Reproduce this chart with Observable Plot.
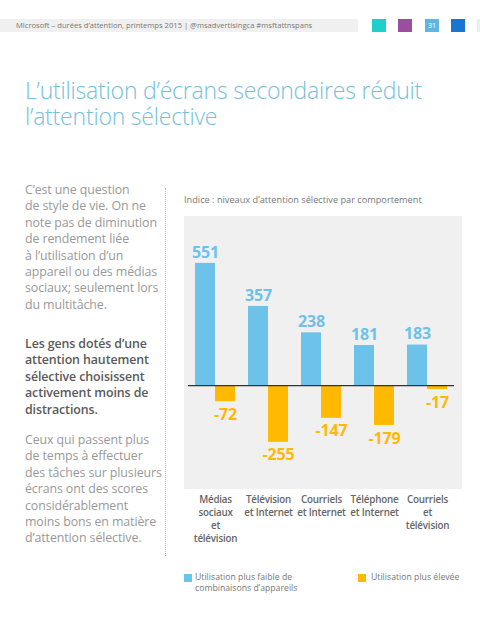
<!DOCTYPE html>
<html><head><meta charset="utf-8">
<script src="https://cdn.jsdelivr.net/npm/d3@7"></script>
<script src="https://cdn.jsdelivr.net/npm/@observablehq/plot@0.6"></script>
<style>
body{margin:0;width:480px;height:640px;background:#fff;font-family:"Open Sans",sans-serif;position:relative;overflow:hidden}
.abs{position:absolute}
#hdr{left:0;top:19px;width:358px;height:13px;background:#f0f0f0;font-size:7.6px;color:#777;line-height:13px;padding-left:16px;box-sizing:border-box;white-space:nowrap}
.sq{top:19px;width:14px;height:13px}
.title{left:25px;font-size:23px;font-weight:300;color:#74c0dc;line-height:23px;white-space:nowrap;letter-spacing:-0.2px}
.para{left:25px;width:140px;font-size:12.4px;color:#999;line-height:16.4px;white-space:nowrap;letter-spacing:-0.1px}
.para b{color:#5a5a5a;font-weight:600}
#vline{left:165px;top:188px;height:368px;border-left:1px dotted #bbb}
#sub{left:184px;top:193px;font-size:9.2px;color:#777;white-space:nowrap}
#bg{left:184px;top:216px;width:278px;height:273px;background:#f0f0f0}
#chart{left:184px;top:216px}
#chart svg text{letter-spacing:-0.2px}
.leg{font-size:8.7px;color:#777;line-height:11px;white-space:nowrap}
.lsq{width:8px;height:8px}
</style></head>
<body>
<div id="hdr" class="abs">Microsoft – durées d’attention, printemps 2015 | @msadvertisingca #msftattnspans</div>
<div class="abs sq" style="left:372px;background:#1fcfcb"></div>
<div class="abs sq" style="left:398px;background:#9b4f9b"></div>
<div class="abs sq" style="left:425px;background:#5eb5e2;color:#fff;font-size:7px;line-height:13px;text-align:center">31</div>
<div class="abs sq" style="left:451px;background:#1876d2"></div>
<div class="abs sq" style="left:477px;background:#eeeeee"></div>
<div class="abs title" style="top:79px">L’utilisation d’écrans secondaires réduit</div>
<div class="abs title" style="top:105px">l’attention sélective</div>
<div class="abs para" style="top:182px">C’est une question<br>de style de vie. On ne<br>note pas de diminution<br>de rendement liée<br>à l’utilisation d’un<br>appareil ou des médias<br>sociaux; seulement lors<br>du multitâche.</div>
<div class="abs para" style="top:336px"><b>Les gens dotés d’une<br>attention hautement<br>sélective choisissent<br>activement moins de<br>distractions.</b></div>
<div class="abs para" style="top:432px">Ceux qui passent plus<br>de temps à effectuer<br>des tâches sur plusieurs<br>écrans ont des scores<br>considérablement<br>moins bons en matière<br>d’attention sélective.</div>
<div id="vline" class="abs"></div>
<div id="sub" class="abs">Indice : niveaux d’attention sélective par comportement</div>
<div id="bg" class="abs"></div>
<div id="chart" class="abs"></div>
<div class="abs lsq" style="left:184px;top:574px;background:#6dc2ea"></div>
<div class="abs leg" style="left:195px;top:572px">Utilisation plus faible de<br>combinaisons d’appareils</div>
<div class="abs lsq" style="left:358px;top:574px;background:#ffb900"></div>
<div class="abs leg" style="left:371px;top:572px">Utilisation plus élevée</div>
<script>
const categories = ["Médias sociaux et télévision","Télévision et Internet","Courriels et Internet","Téléphone et Internet","Courriels et télévision"];
const categoryLabels = ["Médias\nsociaux\net\ntélévision","Télévision\net Internet","Courriels\net Internet","Téléphone\net Internet","Courriels\net\ntélévision"];
const lowerUse = [551,357,238,181,183];
const higherUse = [-72,-255,-147,-179,-17];
const seriesNames = ["Utilisation plus faible de combinaisons d’appareils","Utilisation plus élevée"];

const BLUE = "#6dc2ea", ORANGE = "#ffb900";
const low = categories.map((c,i)=>({cat:c, v:lowerUse[i]}));
const high = categories.map((c,i)=>({cat:c, v:higherUse[i]}));
const labelOf = new Map(categories.map((c,i)=>[c, categoryLabels[i]]));

const chart = Plot.plot({
  width: 278, height: 340,
  marginLeft: 4, marginRight: 8, marginTop: 36, marginBottom: 82,
  style: {background: "transparent", fontFamily: "'Open Sans', sans-serif"},
  x: {domain: categories, paddingInner: 0.25, paddingOuter: 0.12, axis: null},
  y: {domain: [-400, 600], axis: null},
  marks: [
    Plot.barY(low, {x: "cat", y: "v", fill: BLUE, insetRight: 20}),
    Plot.barY(high, {x: "cat", y: "v", fill: ORANGE, insetLeft: 20}),
    Plot.ruleY([0], {stroke: "#333", strokeWidth: 1.2}),
    Plot.text(low, {x: "cat", y: "v", text: d=>String(d.v), dx: -10, dy: -11, fill: BLUE, fontSize: 16, fontWeight: "bold", textAnchor: "middle"}),
    Plot.text(high, {x: "cat", y: "v", text: d=>String(d.v), dx: 10, dy: 13, fill: ORANGE, fontSize: 16, fontWeight: "bold", textAnchor: "middle"}),
    Plot.axisX({anchor: "bottom", label: null, tickSize: 0, tickPadding: 19, tickFormat: d=>labelOf.get(d), fontSize: 9.8, fontWeight: 600, color: "#666", lineHeight: 1.33})
  ]
});
document.getElementById("chart").appendChild(chart);
</script>
</body></html>
